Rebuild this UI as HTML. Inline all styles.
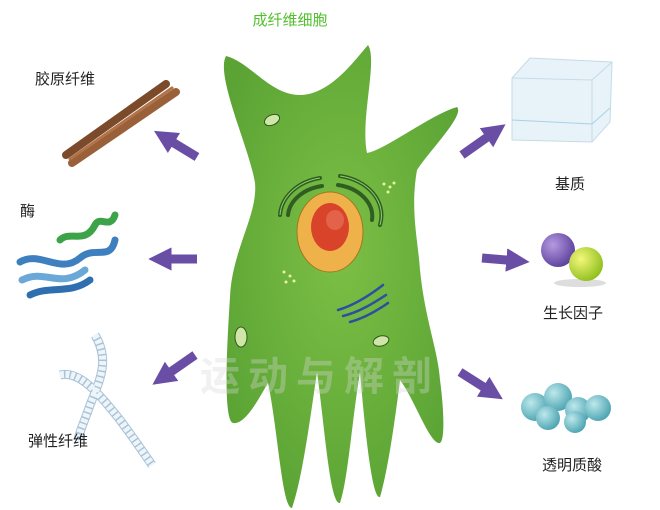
<!DOCTYPE html>
<html><head><meta charset="utf-8"><style>
body{margin:0;background:#fff;}
svg{display:block}
text{font-family:"Liberation Sans","Noto Sans CJK SC",sans-serif;}
</style></head><body>
<svg width="660" height="510" viewBox="0 0 660 510" xmlns="http://www.w3.org/2000/svg">
<defs>
<radialGradient id="cg" cx="0.5" cy="0.45" r="0.6"><stop offset="0" stop-color="#7cbf45"/><stop offset="1" stop-color="#5aa334"/></radialGradient>
<marker id="ah" viewBox="0 0 10 10" refX="5" refY="5" markerWidth="2.6" markerHeight="2.6" orient="auto"><path d="M0,0 L10,5 L0,10 z" fill="#6a4ea6"/></marker>
<radialGradient id="pb" cx="0.35" cy="0.35" r="0.7"><stop offset="0" stop-color="#b59ae0"/><stop offset="1" stop-color="#5b3f9c"/></radialGradient>
<radialGradient id="yb" cx="0.35" cy="0.35" r="0.7"><stop offset="0" stop-color="#f4f77a"/><stop offset="1" stop-color="#8fbf1e"/></radialGradient>
<radialGradient id="hb" cx="0.35" cy="0.35" r="0.7"><stop offset="0" stop-color="#bde8ec"/><stop offset="1" stop-color="#4aa3b0"/></radialGradient>
</defs>
<text x="290" y="25" font-size="15" fill="#52c02e" text-anchor="middle">成纤维细胞</text>
<!-- cell -->
<path d="M226,56 C250,62 270,95 300,95 C330,95 355,60 368,45 C378,60 360,120 367,153 C385,150 430,115 457,107 C465,115 430,150 417,170 C410,210 418,240 420,270 C425,320 438,350 440,380 C444,410 445,440 440,443 C430,445 415,400 400,380 C395,420 388,470 380,497 C372,500 365,430 360,372 C352,420 348,480 340,503 C330,505 325,430 317,372 C310,420 302,480 292,508 C282,508 278,430 268,383 C258,400 245,425 233,423 C222,420 228,330 230,297 C232,250 258,215 255,183 C250,150 215,75 226,56 Z" fill="url(#cg)"/>
<ellipse cx="272" cy="120" rx="8" ry="5" fill="#cfe6a8" stroke="#2f5a1a" transform="rotate(-25 272 120)"/>
<ellipse cx="241" cy="337" rx="6" ry="10" fill="#cfe6a8" stroke="#2f5a1a"/>
<ellipse cx="381" cy="341" rx="8" ry="5" fill="#cfe6a8" stroke="#2f5a1a" transform="rotate(-15 381 341)"/>
<g fill="none" stroke="#2f5d22" stroke-width="4" stroke-linecap="round">
<path d="M280,215 A50,40 0 0 1 320,178"/><path d="M288,215 A42,32 0 0 1 322,186"/>
<path d="M340,176 A50,40 0 0 1 380,225"/><path d="M338,185 A42,32 0 0 1 372,220"/>
</g>
<g fill="none" stroke="#8fcf6a" stroke-width="1"><path d="M280,215 A50,40 0 0 1 320,178"/><path d="M340,176 A50,40 0 0 1 380,225"/></g>
<ellipse cx="330" cy="232" rx="33" ry="40" fill="#efb24a" stroke="#a0781e"/>
<ellipse cx="330" cy="227" rx="19" ry="24" fill="#d9432a"/>
<ellipse cx="335" cy="220" rx="9" ry="10" fill="#e3624a"/>
<g fill="none" stroke="#2d4fa0" stroke-width="2.5" stroke-linecap="round">
<path d="M338,310 C355,305 370,295 383,285"/><path d="M343,316 C360,312 375,302 386,295"/><path d="M350,322 C365,318 378,310 388,303"/>
</g>
<g fill="#e8f5a8"><circle cx="384" cy="184" r="1.5"/><circle cx="390" cy="187" r="1.5"/><circle cx="394" cy="183" r="1.5"/><circle cx="388" cy="192" r="1.5"/><circle cx="284" cy="272" r="1.5"/><circle cx="290" cy="276" r="1.5"/><circle cx="286" cy="282" r="1.5"/><circle cx="294" cy="281" r="1.5"/></g>
<!-- watermark -->
<text x="200" y="390" font-size="40" fill="#d8d8d8" fill-opacity="0.35" font-weight="bold" letter-spacing="8">运动与解剖</text>
<!-- arrows -->
<g stroke="#6a4ea6" stroke-width="9" marker-end="url(#ah)">
<line x1="197" y1="157" x2="164" y2="137"/>
<line x1="197" y1="259" x2="160" y2="259"/>
<line x1="195" y1="355" x2="162" y2="378"/>
<line x1="462" y1="155" x2="496" y2="131"/>
<line x1="482" y1="258" x2="518" y2="261"/>
<line x1="460" y1="372" x2="493" y2="393"/>
</g>
<!-- collagen -->
<g stroke-linecap="round">
<line x1="66" y1="155" x2="166" y2="84" stroke="#7a4a2a" stroke-width="8"/>
<line x1="72" y1="163" x2="176" y2="92" stroke="#9a603a" stroke-width="8"/>
<line x1="70" y1="159" x2="172" y2="88" stroke="#b07448" stroke-width="3"/>
</g>
<text x="35" y="84" font-size="15" fill="#222">胶原纤维</text>
<!-- enzyme -->
<g fill="none" stroke-width="7" stroke-linecap="round">
<path d="M20,262 C40,250 60,275 80,258 C95,245 110,262 115,240" stroke="#3e7fc0"/>
<path d="M22,280 C45,268 60,290 85,270" stroke="#6aa8d8"/>
<path d="M60,240 C70,230 85,245 95,225 C100,215 110,230 115,215" stroke="#3da348"/>
<path d="M30,295 C50,285 70,295 90,280" stroke="#2f6fb0"/>
</g>
<text x="20" y="216" font-size="15" fill="#222">酶</text>
<!-- elastic -->
<g fill="none" stroke="#a9c3d6" stroke-width="9"><path d="M60,375 C80,370 100,395 120,420 C135,440 145,455 152,465"/><path d="M95,335 C110,360 100,380 90,405 C85,420 80,430 78,440"/></g>
<g fill="none" stroke="#eef5fa" stroke-width="7" stroke-dasharray="4 1.5">
<path d="M60,375 C80,370 100,395 120,420 C135,440 145,455 152,465"/>
<path d="M95,335 C110,360 100,380 90,405 C85,420 80,430 78,440"/>
</g>
<text x="28" y="446" font-size="15" fill="#222">弹性纤维</text>
<!-- cube -->
<g stroke="#c5dbe8" stroke-width="1">
<path d="M512,78 L530,58 L612,62 L610,122 L592,142 L512,140 Z" fill="#e8f3f9"/>
<path d="M512,78 L592,80 L612,62" fill="none"/><path d="M592,80 L592,142" fill="none"/>
<path d="M512,120 L592,124 L610,108" fill="none" stroke="#a8d0e6"/>
</g>
<text x="570" y="189" font-size="15" fill="#222" text-anchor="middle">基质</text>
<!-- balls -->
<ellipse cx="580" cy="283" rx="26" ry="4" fill="#ddd"/>
<circle cx="558" cy="250" r="17" fill="url(#pb)"/>
<circle cx="586" cy="264" r="17" fill="url(#yb)"/>
<text x="573" y="318" font-size="15" fill="#222" text-anchor="middle">生长因子</text>
<!-- hyaluronic -->
<g fill="url(#hb)">
<circle cx="535" cy="407" r="14"/><circle cx="558" cy="397" r="14"/><circle cx="548" cy="418" r="12"/>
<circle cx="578" cy="410" r="13"/><circle cx="598" cy="408" r="13"/><circle cx="575" cy="422" r="11"/>
</g>
<text x="572" y="470" font-size="15" fill="#222" text-anchor="middle">透明质酸</text>
</svg>
</body></html>
